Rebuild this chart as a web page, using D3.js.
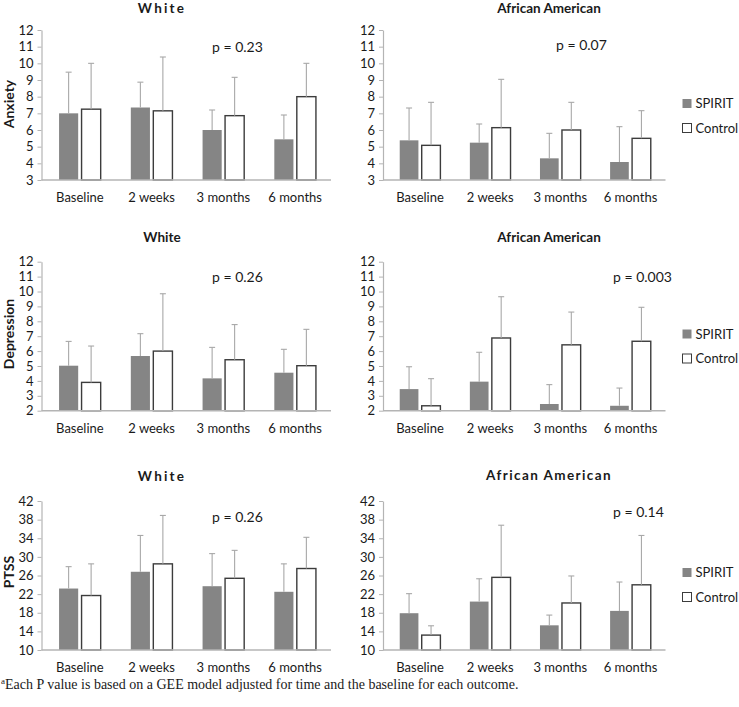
<!DOCTYPE html>
<html>
<head>
<meta charset="utf-8">
<script src="https://cdn.jsdelivr.net/npm/d3@7/dist/d3.min.js"></script>
<style>
  html, body { margin: 0; padding: 0; background: #ffffff; }
  svg { display: block; }
  text { font-family: Lato, "Open Sans", sans-serif; fill: #1a1a1a; }
</style>
</head>
<body>
<svg id="chart" width="739" height="707"></svg>
<script>
// ---------- data ----------
const categories = ["Baseline", "2 weeks", "3 months", "6 months"];
const seriesNames = ["SPIRIT", "Control"];

const anxietyTicks = [3, 4, 5, 6, 7, 8, 9, 10, 11, 12];
const depressionTicks = [2, 3, 4, 5, 6, 7, 8, 9, 10, 11, 12];
const ptssTicks = [10, 14, 18, 22, 26, 30, 34, 38, 42];

// means and upper error-bar ends (mean + SD)
const anxietyWhiteSpirit     = [7.0, 7.35, 6.0, 5.44];
const anxietyWhiteSpiritTop  = [9.47, 8.87, 7.2, 6.9];
const anxietyWhiteControl    = [7.25, 7.15, 6.86, 8.0];
const anxietyWhiteControlTop = [10.0, 10.38, 9.16, 10.0];

const anxietyAASpirit        = [5.38, 5.24, 4.3, 4.08];
const anxietyAASpiritTop     = [7.32, 6.36, 5.8, 6.2];
const anxietyAAControl       = [5.08, 6.14, 6.0, 5.5];
const anxietyAAControlTop    = [7.66, 9.04, 7.66, 7.16];

const depressionWhiteSpirit     = [5.02, 5.67, 4.17, 4.55];
const depressionWhiteSpiritTop  = [6.65, 7.17, 6.25, 6.12];
const depressionWhiteControl    = [3.9, 6.0, 5.42, 5.02];
const depressionWhiteControlTop = [6.34, 9.85, 7.78, 7.46];

const depressionAASpirit        = [3.45, 3.95, 2.45, 2.33];
const depressionAASpiritTop     = [4.95, 5.92, 3.75, 3.52];
const depressionAAControl       = [2.33, 6.88, 6.42, 6.66];
const depressionAAControlTop    = [4.15, 9.65, 8.62, 8.94];

const ptssWhiteSpirit     = [23.2, 26.8, 23.7, 22.5];
const ptssWhiteSpiritTop  = [27.9, 34.6, 30.7, 28.5];
const ptssWhiteControl    = [21.7, 28.5, 25.4, 27.5];
const ptssWhiteControlTop = [28.5, 38.9, 31.4, 34.2];

const ptssAASpirit        = [17.9, 20.4, 15.3, 18.4];
const ptssAASpiritTop     = [22.1, 25.3, 17.5, 24.6];
const ptssAAControl       = [13.2, 25.6, 20.1, 24.0];
const ptssAAControlTop    = [15.2, 36.8, 25.9, 34.6];

const pValues = ["p = 0.23", "p = 0.07", "p = 0.26", "p = 0.003", "p = 0.26", "p = 0.14"];
const panelTitles = ["White", "African American", "White", "African American", "White", "African American"];
const outcomeLabels = ["Anxiety", "Depression", "PTSS"];
const footnote = "Each P value is based on a GEE model adjusted for time and the baseline for each outcome.";

// ---------- layout ----------
const svg = d3.select("#chart");
const SPIRIT_FILL = "#858585";
const CONTROL_STROKE = "#3c3c3c";
const AXIS_COLOR = "#b4b4b4";
const ERR_COLOR = "#a8a8a8";

const rows = [
  { top: 30, bottom: 180, ticks: anxietyTicks, label: outcomeLabels[0], labelY: 104 },
  { top: 261.7, bottom: 410.7, ticks: depressionTicks, label: outcomeLabels[1], labelY: 334 },
  { top: 501, bottom: 650, ticks: ptssTicks, label: outcomeLabels[2], labelY: 572 }
];
const cols = [
  { axisX: 41.5, x0: 44, x1: 331, titleX: 162 },
  { axisX: 383, x0: 385, x1: 665.5, titleX: 549 }
];

const panels = [
  { r: 0, c: 0, s: anxietyWhiteSpirit, sTop: anxietyWhiteSpiritTop, k: anxietyWhiteControl, kTop: anxietyWhiteControlTop,
    title: panelTitles[0], spaced: 2.2, titleY: 12.5, p: pValues[0], pX: 212, pY: 52 },
  { r: 0, c: 1, s: anxietyAASpirit, sTop: anxietyAASpiritTop, k: anxietyAAControl, kTop: anxietyAAControlTop,
    title: panelTitles[1], spaced: 0, titleY: 12.5, p: pValues[1], pX: 556, pY: 50, legend: [103.5, 128] },
  { r: 1, c: 0, s: depressionWhiteSpirit, sTop: depressionWhiteSpiritTop, k: depressionWhiteControl, kTop: depressionWhiteControlTop,
    title: panelTitles[2], spaced: 0, titleY: 241.5, p: pValues[2], pX: 212, pY: 282 },
  { r: 1, c: 1, s: depressionAASpirit, sTop: depressionAASpiritTop, k: depressionAAControl, kTop: depressionAAControlTop,
    title: panelTitles[3], spaced: 0, titleY: 241.5, p: pValues[3], pX: 613, pY: 282, legend: [334, 358.5] },
  { r: 2, c: 0, s: ptssWhiteSpirit, sTop: ptssWhiteSpiritTop, k: ptssWhiteControl, kTop: ptssWhiteControlTop,
    title: panelTitles[4], spaced: 2.2, titleY: 480.5, p: pValues[4], pX: 212, pY: 522 },
  { r: 2, c: 1, s: ptssAASpirit, sTop: ptssAASpiritTop, k: ptssAAControl, kTop: ptssAAControlTop,
    title: panelTitles[5], spaced: 1.4, titleY: 479.5, p: pValues[5], pX: 613, pY: 517, legend: [572.5, 597] }
];

panels.forEach(pn => {
  const row = rows[pn.r];
  const col = cols[pn.c];
  const g = svg.append("g");

  const x = d3.scaleBand().domain(categories).range([col.x0, col.x1]).paddingInner(0.42).paddingOuter(0.21);
  const xs = d3.scaleBand().domain(seriesNames).range([0, x.bandwidth()]).paddingInner(0.15);
  const y = d3.scaleLinear().domain(d3.extent(row.ticks)).range([row.bottom, row.top]);

  // y axis
  const yAxis = g.append("g")
    .attr("transform", `translate(${col.axisX},0)`)
    .call(d3.axisLeft(y).tickValues(row.ticks).tickSize(4).tickPadding(4).tickSizeOuter(0));
  yAxis.select(".domain").attr("stroke", AXIS_COLOR).attr("stroke-width", 1.2);
  yAxis.selectAll(".tick line").attr("stroke", AXIS_COLOR);
  yAxis.selectAll(".tick text").style("font-size", "13px").style("font-family", "Lato, sans-serif").attr("fill", "#1a1a1a");

  const data = categories.map((cat, i) => [
    { cat, ser: "SPIRIT", v: pn.s[i], top: pn.sTop[i] },
    { cat, ser: "Control", v: pn.k[i], top: pn.kTop[i] }
  ]).flat();

  // bars
  g.selectAll("rect.bar").data(data).enter().append("rect")
    .attr("class", "bar")
    .attr("x", d => x(d.cat) + xs(d.ser))
    .attr("width", xs.bandwidth())
    .attr("y", d => y(d.v))
    .attr("height", d => y(y.domain()[0]) - y(d.v))
    .attr("fill", d => d.ser === "SPIRIT" ? SPIRIT_FILL : "#ffffff")
    .attr("stroke", d => d.ser === "SPIRIT" ? "none" : CONTROL_STROKE)
    .attr("stroke-width", 1.4);

  // error bars (upper only)
  const cx = d => x(d.cat) + xs(d.ser) + xs.bandwidth() / 2;
  const err = g.selectAll("g.err").data(data).enter().append("g").attr("class", "err");
  err.append("line")
    .attr("x1", cx).attr("x2", cx)
    .attr("y1", d => y(d.v)).attr("y2", d => y(d.top))
    .attr("stroke", ERR_COLOR).attr("stroke-width", 1.1);
  err.append("line")
    .attr("x1", d => cx(d) - 3).attr("x2", d => cx(d) + 3)
    .attr("y1", d => y(d.top)).attr("y2", d => y(d.top))
    .attr("stroke", ERR_COLOR).attr("stroke-width", 1.1);

  // x axis baseline and labels
  g.append("line")
    .attr("x1", col.axisX).attr("x2", col.x1)
    .attr("y1", row.bottom).attr("y2", row.bottom)
    .attr("stroke", AXIS_COLOR).attr("stroke-width", 1.4);
  const xAxis = g.append("g")
    .attr("transform", `translate(0,${row.bottom})`)
    .call(d3.axisBottom(x).tickSize(0).tickPadding(13));
  xAxis.select(".domain").remove();
  xAxis.selectAll(".tick text").style("font-size", "13px").style("font-family", "Lato, sans-serif").attr("fill", "#1a1a1a");

  // title
  g.append("text")
    .attr("x", col.titleX)
    .attr("y", pn.titleY)
    .attr("text-anchor", "middle")
    .style("font-size", "13.5px").style("font-weight", "bold")
    .style("letter-spacing", pn.spaced + "px")
    .text(pn.title);

  // p value
  g.append("text")
    .attr("x", pn.pX).attr("y", pn.pY)
    .style("font-size", "14px")
    .text(pn.p);

  // outcome label
  if (pn.c === 0) {
    g.append("text")
      .attr("transform", `translate(13.5,${row.labelY}) rotate(-90)`)
      .attr("text-anchor", "middle")
      .style("font-size", "14px").style("font-weight", "bold")
      .text(row.label);
  }

  // legend
  if (pn.legend) {
    seriesNames.forEach((nm, i) => {
      const ly = pn.legend[i];
      g.append("rect")
        .attr("x", 682.5).attr("y", ly - 4.5).attr("width", 9).attr("height", 9)
        .attr("fill", nm === "SPIRIT" ? SPIRIT_FILL : "#ffffff")
        .attr("stroke", nm === "SPIRIT" ? "none" : CONTROL_STROKE)
        .attr("stroke-width", 1);
      g.append("text")
        .attr("x", 695.5).attr("y", ly).attr("dy", "0.35em")
        .style("font-size", "13px")
        .text(nm);
    });
  }
});

// footnote
const fn = svg.append("text")
  .attr("x", 1).attr("y", 689)
  .style("font-family", "'Liberation Serif', 'Times New Roman', serif")
  .style("font-size", "14px");
fn.append("tspan").attr("dy", "-5").style("font-size", "9px").text("a");
fn.append("tspan").attr("dy", "5").text(footnote);
</script>
</body>
</html>
